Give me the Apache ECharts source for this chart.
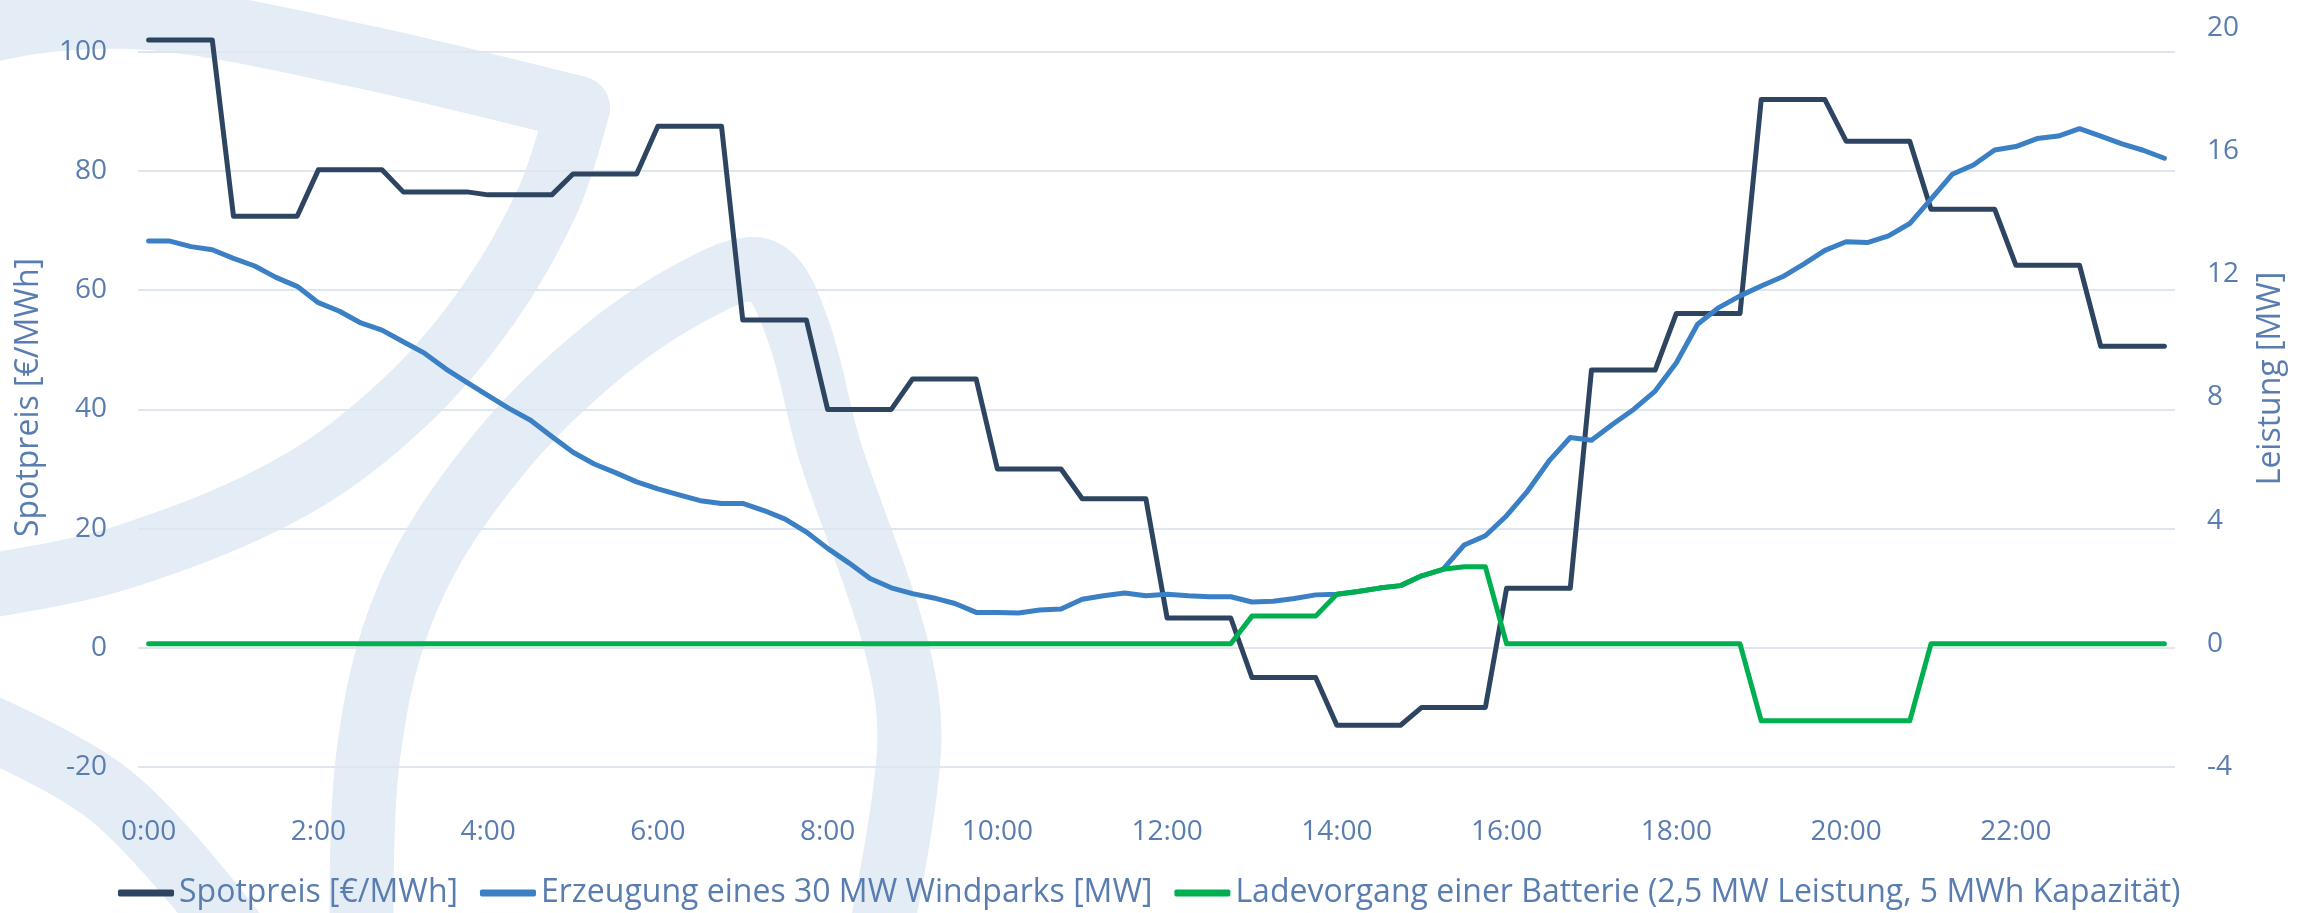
<!DOCTYPE html>
<html>
<head>
<meta charset="utf-8">
<script src="https://cdn.jsdelivr.net/npm/echarts@6/dist/echarts.min.js"></script>
<style>
html, body { margin: 0; padding: 0; background: #fff; }
#chart { width: 2313px; height: 913px; }
</style>
</head>
<body>
<div id="chart"></div>
<script>
// quarter-hour time slots
var times = [
 '0:00','0:15','0:30','0:45','1:00','1:15','1:30','1:45','2:00','2:15','2:30','2:45',
 '3:00','3:15','3:30','3:45','4:00','4:15','4:30','4:45','5:00','5:15','5:30','5:45',
 '6:00','6:15','6:30','6:45','7:00','7:15','7:30','7:45','8:00','8:15','8:30','8:45',
 '9:00','9:15','9:30','9:45','10:00','10:15','10:30','10:45','11:00','11:15','11:30','11:45',
 '12:00','12:15','12:30','12:45','13:00','13:15','13:30','13:45','14:00','14:15','14:30','14:45',
 '15:00','15:15','15:30','15:45','16:00','16:15','16:30','16:45','17:00','17:15','17:30','17:45',
 '18:00','18:15','18:30','18:45','19:00','19:15','19:30','19:45','20:00','20:15','20:30','20:45',
 '21:00','21:15','21:30','21:45','22:00','22:15','22:30','22:45','23:00','23:15','23:30','23:45'
];

// spot price [EUR/MWh], hourly product -> same value for each quarter hour
var spotpreis = [
 102,102,102,102, 72.4,72.4,72.4,72.4, 80.2,80.2,80.2,80.2, 76.5,76.5,76.5,76.5,
 76,76,76,76, 79.5,79.5,79.5,79.5, 87.5,87.5,87.5,87.5, 55,55,55,55,
 40,40,40,40, 45.1,45.1,45.1,45.1, 30,30,30,30, 25,25,25,25,
 5,5,5,5, -5,-5,-5,-5, -13,-13,-13,-13, -10,-10,-10,-10,
 10,10,10,10, 46.6,46.6,46.6,46.6, 56.1,56.1,56.1,56.1, 92,92,92,92,
 85,85,85,85, 73.6,73.6,73.6,73.6, 64.2,64.2,64.2,64.2, 50.6,50.6,50.6,50.6
];

// wind park output [MW]
var windpark = [
 13.08,13.08,12.9,12.8,12.52,12.27,11.9,11.61,11.08,10.8,10.42,10.19,
 9.81,9.44,8.93,8.49,8.06,7.64,7.26,6.73,6.22,5.84,5.56,5.26,
 5.03,4.84,4.65,4.56,4.56,4.33,4.05,3.63,3.1,2.63,2.12,1.82,
 1.63,1.49,1.31,1.02,1.02,1.0,1.1,1.13,1.45,1.56,1.65,1.56,
 1.61,1.56,1.53,1.53,1.36,1.38,1.47,1.59,1.61,1.7,1.81,1.89,
 2.21,2.42,3.21,3.51,4.16,4.97,5.94,6.7,6.61,7.13,7.62,8.21,
 9.13,10.38,10.92,11.3,11.62,11.92,12.33,12.78,13.06,13.03,13.25,13.65,
 14.44,15.25,15.55,16.04,16.15,16.41,16.49,16.73,16.49,16.24,16.03,15.77
];

// battery charge (+) / discharge (-) [MW]
var batterie = [
 0,0,0,0,0,0,0,0,0,0,0,0,
 0,0,0,0,0,0,0,0,0,0,0,0,
 0,0,0,0,0,0,0,0,0,0,0,0,
 0,0,0,0,0,0,0,0,0,0,0,0,
 0,0,0,0,0.9,0.9,0.9,0.9,1.61,1.7,1.81,1.89,
 2.21,2.42,2.5,2.5,0,0,0,0,0,0,0,0,
 0,0,0,0,-2.5,-2.5,-2.5,-2.5,-2.5,-2.5,-2.5,-2.5,
 0,0,0,0,0,0,0,0,0,0,0,0
];

var seriesNames = [
 'Spotpreis [€/MWh]',
 'Erzeugung eines 30 MW Windparks [MW]',
 'Ladevorgang einer Batterie (2,5 MW Leistung, 5 MWh Kapazität)'
];

var textColor = '#5a7db0';
var gridColor = '#dfe6ef';
var markColor = '#e4ecf6';
var font = '"Open Sans", "Noto Sans", sans-serif';

var dom = document.getElementById('chart');
var myChart = echarts.init(dom, null, {renderer: 'canvas'});

// background logo strokes
var logo = [
 [[-140, 85], [0, 28], [150, 18], [360, 56], [578, 108]],
 [[578, 108], [548, 200], [488, 305], [405, 402], [292, 487], [130, 555], [0, 584], [-90, 594]],
 [[362, 960], [368, 757], [408, 597], [494, 460], [606, 349], [715, 280], [765, 272], [798, 330], [830, 451], [895, 641], [909, 751], [875, 960]],
 [[-40, 715], [110, 795], [240, 940]]
];

var option = {
    backgroundColor: '#fff',
    textStyle: {fontFamily: font},
    animation: false,
    graphic: logo.map(function (pts, i) {
        return {
            type: 'polyline',
            z: -10,
            silent: true,
            shape: {points: pts, smooth: i === 0 ? 0.3 : 0.35},
            style: {stroke: markColor, lineWidth: 64, fill: null, lineCap: 'round', lineJoin: 'round'}
        };
    }),
    grid: {left: 138, right: 138, top: 28, bottom: 146},
    legend: {
        data: seriesNames,
        left: 113,
        top: 872,
        icon: 'roundRect',
        itemWidth: 56,
        itemHeight: 7,
        itemGap: 22,
        textStyle: {fontSize: 32, color: textColor, fontFamily: font}
    },
    xAxis: {
        type: 'category',
        data: times,
        boundaryGap: true,
        axisLine: {show: false},
        axisTick: {show: false},
        axisLabel: {interval: 7, margin: 51, fontSize: 28, color: textColor, fontFamily: font},
        splitLine: {show: false}
    },
    yAxis: [
        {
            type: 'value',
            min: -20,
            max: 104,
            interval: 20,
            name: 'Spotpreis [€/MWh]',
            nameLocation: 'middle',
            nameGap: 93,
            nameTextStyle: {fontSize: 32, color: textColor, fontFamily: font},
            axisLine: {show: false},
            axisTick: {show: false},
            axisLabel: {margin: 31, fontSize: 28, color: textColor, fontFamily: font, showMaxLabel: false},
            splitLine: {
                show: true,
                lineStyle: {
                    width: 2,
                    color: [gridColor, gridColor, gridColor, gridColor, gridColor, gridColor, gridColor, 'rgba(0,0,0,0)']
                }
            }
        },
        {
            type: 'value',
            min: -4,
            max: 20,
            interval: 4,
            name: 'Leistung [MW]',
            nameLocation: 'middle',
            nameGap: 80,
            nameTextStyle: {fontSize: 32, color: textColor, fontFamily: font, padding: [0, 0, 0, 38]},
            axisLine: {show: false},
            axisTick: {show: false},
            axisLabel: {margin: 32, fontSize: 28, color: textColor, fontFamily: font},
            splitLine: {show: false}
        }
    ],
    series: [
        {
            name: seriesNames[0],
            type: 'line',
            yAxisIndex: 0,
            data: spotpreis,
            showSymbol: false,
            symbol: 'none',
            color: '#2d4560',
            lineStyle: {width: 5, color: '#2d4560', cap: 'round', join: 'round'}
        },
        {
            name: seriesNames[1],
            type: 'line',
            yAxisIndex: 1,
            data: windpark,
            showSymbol: false,
            symbol: 'none',
            color: '#3b80c5',
            lineStyle: {width: 5, color: '#3b80c5', cap: 'round', join: 'round'}
        },
        {
            name: seriesNames[2],
            type: 'line',
            yAxisIndex: 1,
            data: batterie,
            showSymbol: false,
            symbol: 'none',
            color: '#00b050',
            lineStyle: {width: 5, color: '#00b050', cap: 'round', join: 'round'}
        }
    ]
};

if (option && typeof option === 'object') {
    myChart.setOption(option, true);
}
</script>
</body>
</html>
